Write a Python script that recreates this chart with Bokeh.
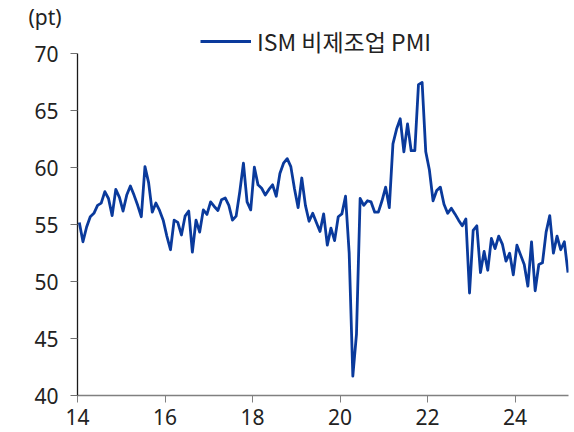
from bokeh.plotting import figure
from bokeh.models import Range1d, FixedTicker, Legend, LegendItem, ColumnDataSource
from bokeh.embed import file_html
from bokeh.resources import INLINE

# ---- data (ISM services PMI, monthly, Jan 2014 - Mar 2025) ----
start_year = 2014
pmi_2014 = [55.2, 53.5, 54.8, 55.7, 56.0, 56.7, 56.9, 57.9, 57.3, 55.8, 58.1, 57.4]
pmi_2015 = [56.2, 57.6, 58.4, 57.6, 56.7, 55.7, 60.1, 58.7, 56.1, 56.9, 56.25, 55.4]
pmi_2016 = [54.0, 52.8, 55.4, 55.2, 54.1, 55.75, 56.2, 52.6, 55.4, 54.35, 56.3, 55.9]
pmi_2017 = [57.0, 56.6, 56.25, 57.2, 57.35, 56.7, 55.4, 55.75, 57.9, 60.4, 57.0, 56.3]
pmi_2018 = [60.05, 58.5, 58.2, 57.6, 58.1, 58.5, 57.5, 59.5, 60.4, 60.8, 60.1, 58.15]
pmi_2019 = [56.5, 59.1, 56.7, 55.3, 56.0, 55.2, 54.4, 55.95, 53.2, 54.7, 53.6, 55.7]
pmi_2020 = [55.95, 57.5, 52.5, 41.7, 45.4, 57.3, 56.7, 57.1, 57.0, 56.1, 56.1, 57.1]
pmi_2021 = [58.3, 56.5, 62.1, 63.4, 64.3, 61.4, 63.85, 61.5, 61.5, 67.3, 67.5, 61.4]
pmi_2022 = [59.8, 57.1, 58.0, 58.3, 56.8, 56.0, 56.45, 55.95, 55.4, 54.9, 55.5, 49.0]
pmi_2023 = [54.5, 54.9, 50.8, 52.65, 51.0, 53.8, 52.9, 54.0, 53.3, 51.8, 52.5, 50.6]
pmi_2024 = [53.2, 52.35, 51.5, 49.6, 53.5, 49.2, 51.5, 51.65, 54.35, 55.8, 52.5, 54.0]
pmi_2025 = [52.8, 53.5, 50.8]

x_ticks = [2014, 2016, 2018, 2020, 2022, 2024]
x_tick_labels = ["14", "16", "18", "20", "22", "24"]
y_ticks = [40, 45, 50, 55, 60, 65, 70]
y_axis_bounds = (40, 70)
series_name = "ISM 비제조업 PMI"
unit_label = "(pt)"

pmi = (pmi_2014 + pmi_2015 + pmi_2016 + pmi_2017 + pmi_2018 + pmi_2019 +
       pmi_2020 + pmi_2021 + pmi_2022 + pmi_2023 + pmi_2024 + pmi_2025)
# mid-month positions in decimal years
xs = [start_year + (i + 0.5) / 12 for i in range(len(pmi))]

src = ColumnDataSource(dict(x=xs, y=pmi))

LINE_COLOR = "#0A3A9C"
TEXT_COLOR = "#222222"
FONT = "Noto Sans"

FRAME_H = 365
Y_PER_PX = 30 / 341.6
LEG_H = 28
p = figure(frame_width=491, frame_height=FRAME_H,
           x_range=Range1d(2014, 2025.22), y_range=Range1d(40, 40 + FRAME_H * Y_PER_PX),
           output_backend="svg", toolbar_location=None,
           min_border_left=77, min_border_right=2, min_border_top=28, min_border_bottom=38,
           title=unit_label)
p.outline_line_color = None
p.xgrid.visible = False
p.ygrid.visible = False
p.background_fill_color = "white"

# unit label as plot title
p.title.align = "left"
p.title.offset = -49
p.title.text_font = FONT
p.title.text_font_size = "21px"
p.title.text_font_style = "normal"
p.title.text_color = TEXT_COLOR
p.title.standoff = 0
p.title.text_line_height = 0.8

r = p.line("x", "y", source=src, line_color=LINE_COLOR, line_width=2.8, line_join="round")

# axes
p.xaxis.ticker = FixedTicker(ticks=x_ticks)
p.xaxis.major_label_overrides = {t: l for t, l in zip(x_ticks, x_tick_labels)}
p.yaxis.ticker = FixedTicker(ticks=y_ticks)
p.yaxis.bounds = y_axis_bounds
for ax in (p.xaxis[0], p.yaxis[0]):
    ax.minor_tick_line_color = None
    ax.major_tick_in = 0
    ax.major_tick_out = 7
    ax.major_label_text_font = FONT
    ax.major_label_text_font_size = "21px"
    ax.major_label_text_color = TEXT_COLOR
p.xaxis.axis_line_color = "#808080"
p.xaxis.major_tick_line_color = "#808080"
p.xaxis.major_label_standoff = 6
p.yaxis.axis_line_color = "#1a1a1a"
p.yaxis.major_tick_line_color = "#707070"
p.yaxis.major_label_standoff = 12
p.xaxis.axis_line_width = 1.5
p.yaxis.axis_line_width = 1.3

# legend at the top of the frame
legend = Legend(items=[LegendItem(label=series_name, renderers=[r])],
                location=(123, FRAME_H - LEG_H), orientation="horizontal",
                glyph_width=51, glyph_height=LEG_H, label_height=LEG_H, label_standoff=6,
                padding=0, margin=0, spacing=0, border_line_color=None,
                background_fill_alpha=0,
                label_text_font="Noto Sans CJK KR", label_text_font_size="23px",
                label_text_color=TEXT_COLOR)
p.add_layout(legend)

open("out.html", "w").write(file_html(p, INLINE))
